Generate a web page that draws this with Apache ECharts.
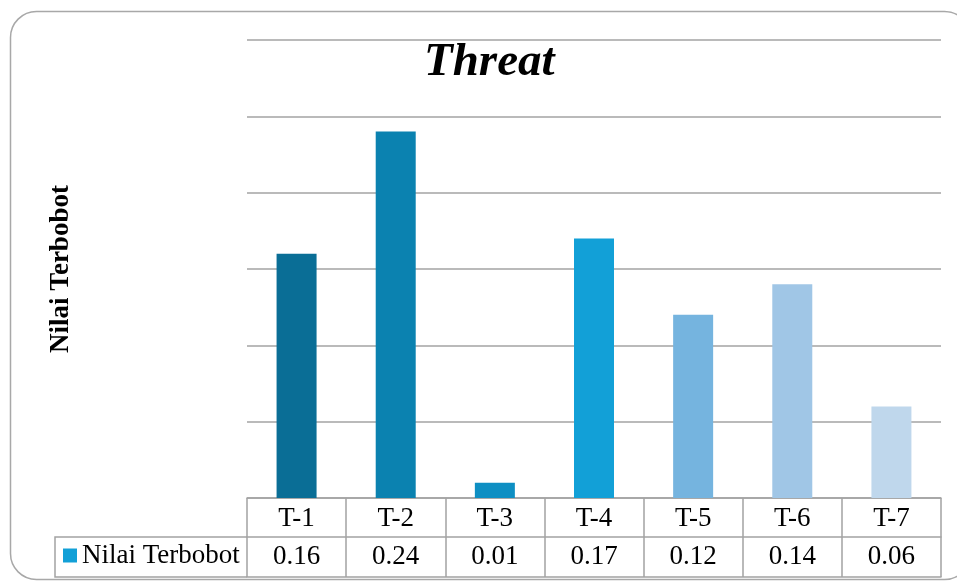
<!DOCTYPE html>
<html>
<head>
<meta charset="utf-8">
<script src="https://cdn.jsdelivr.net/npm/echarts@6/dist/echarts.min.js"></script>
<style>
  html, body { margin: 0; padding: 0; background: #ffffff; }
  #chart { width: 957px; height: 581px; }
</style>
</head>
<body>
<div id="chart"></div>
<script>
// Threat weights per item
const categories = ['T-1', 'T-2', 'T-3', 'T-4', 'T-5', 'T-6', 'T-7'];
const values = [0.16, 0.24, 0.01, 0.17, 0.12, 0.14, 0.06];
const barColors = ['#0a6e96', '#0b82b0', '#0e8fc3', '#12a0d7', '#75b4df', '#a0c6e6', '#bfd7ec'];
const seriesName = 'Nilai Terbobot';
const chartTitle = 'Threat';

const serif = '"Liberation Serif", "Times New Roman", serif';
const lineGray = '#a3a3a3';

const chart = echarts.init(document.getElementById('chart'), null, { renderer: 'canvas' });

chart.setOption({
  animation: false,
  backgroundColor: '#ffffff',
  title: {
    text: chartTitle,
    left: 424,
    top: 39,
    padding: 0,
    textStyle: { fontFamily: serif, fontSize: 47, fontWeight: 'bold', fontStyle: 'italic', color: '#000000' }
  },
  legend: {
    data: [seriesName],
    left: 63,
    top: 542,
    padding: 0,
    itemWidth: 14,
    itemHeight: 14,
    itemGap: 5,
    icon: 'rect',
    textStyle: { fontFamily: serif, fontSize: 27, color: '#000000', padding: [0, 0, 0, 0] }
  },
  grid: { left: 247, right: 16, top: 40, bottom: 83, containLabel: false },
  xAxis: [
    {
      type: 'category',
      data: categories,
      position: 'bottom',
      axisLine: { show: true, lineStyle: { color: lineGray, width: 1.5 } },
      axisTick: { show: true, alignWithLabel: false, length: 79, lineStyle: { color: lineGray, width: 1.5 } },
      axisLabel: { fontFamily: serif, fontSize: 27, color: '#000000', margin: 7 },
      splitLine: { show: false }
    },
    {
      type: 'category',
      data: values.map(v => v.toFixed(2)),
      position: 'bottom',
      offset: 39,
      axisLine: { show: true, lineStyle: { color: lineGray, width: 1.5 } },
      axisTick: { show: false },
      axisLabel: { fontFamily: serif, fontSize: 27, color: '#000000', margin: 6 }
    },
    {
      type: 'category',
      data: categories,
      position: 'bottom',
      offset: 79,
      axisLine: { show: true, lineStyle: { color: lineGray, width: 1.5 } },
      axisTick: { show: false },
      axisLabel: { show: false }
    }
  ],
  yAxis: {
    type: 'value',
    min: 0,
    max: 0.3,
    interval: 0.05,
    name: seriesName,
    nameLocation: 'middle',
    nameRotate: 90,
    nameGap: 172,
    nameTextStyle: { fontFamily: serif, fontSize: 27, fontWeight: 'bold', color: '#000000' },
    axisLine: { show: false },
    axisTick: { show: false },
    axisLabel: { show: false },
    splitLine: { show: true, lineStyle: { color: lineGray, width: 1.5 } }
  },
  series: [
    {
      name: seriesName,
      type: 'bar',
      xAxisIndex: 0,
      barWidth: 40,
      itemStyle: { color: '#12a0d7' },
      data: values.map((v, i) => ({ value: v, itemStyle: { color: barColors[i] } }))
    }
  ],
  graphic: [
    // outer chart frame with rounded corners
    {
      type: 'rect',
      silent: true,
      shape: { x: 10.5, y: 11.5, width: 960, height: 568, r: 26 },
      style: { fill: 'none', stroke: '#a8a8a8', lineWidth: 1.5 },
      z: -10
    },
    // legend cell of the data table
    {
      type: 'polyline',
      silent: true,
      shape: { points: [[247, 537], [55, 537], [55, 577], [247, 577]] },
      style: { fill: 'none', stroke: lineGray, lineWidth: 1.5 }
    }
  ]
});
</script>
</body>
</html>
